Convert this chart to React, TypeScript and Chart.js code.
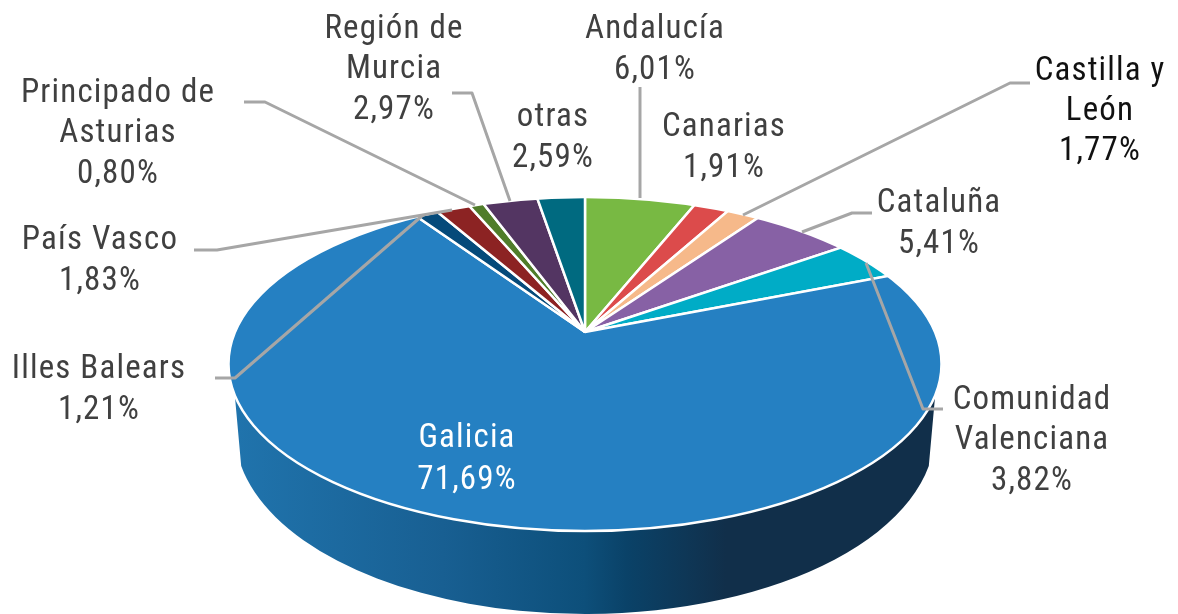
import React, { useEffect, useRef } from "react";
import { Chart, registerables } from "chart.js";

Chart.register(...registerables);

const categories = ["Andalucía", "Canarias", "Castilla y León", "Cataluña", "Comunidad Valenciana", "Galicia", "Illes Balears", "País Vasco", "Principado de Asturias", "Región de Murcia", "otras"];
const shares = [6.01, 1.91, 1.77, 5.41, 3.82, 71.69, 1.21, 1.83, 0.8, 2.97, 2.59];
const sliceColors = ["#78b943", "#dc4b4b", "#f6b98a", "#8761a5", "#00acc6", "#2580c2", "#054a7a", "#8c2323", "#507d2a", "#533562", "#006a80"];

const W = 1178, H = 614;
const APEX = { x: 585, y: 332 };
const TOP = { cx: 585, cy: 364, rx: 356.5, ry: 167 };
const BOTTOM = { cx: 585, cy: 432, rx: 350, ry: 182 };
const TILT = 0.46;
const FONT = 'condensed 34px "Roboto", sans-serif';
const TEXT_SQUEEZE = 0.97;

type Lab = { lines: string[]; x: number; y: number[]; color?: string; leader?: number[][] };
const labelLayout: Lab[] = [
  { lines: ["Andalucía"], x: 655, y: [38, 79], leader: [[640, 87], [640, 198]] },
  { lines: ["Canarias"], x: 724, y: [136, 177] },
  { lines: ["Castilla y", "León"], x: 1100, y: [80, 120, 160], color: "#111111", leader: [[1030, 83], [1010, 83], [743, 215]] },
  { lines: ["Cataluña"], x: 939, y: [212, 253], leader: [[872, 213], [852, 213], [802, 232]] },
  { lines: ["Comunidad", "Valenciana"], x: 1032, y: [409, 449, 490], leader: [[943, 409], [923, 409], [866, 263]] },
  { lines: ["Galicia"], x: 467, y: [447, 489], color: "#ffffff" },
  { lines: ["Illes Balears"], x: 99, y: [378, 419], leader: [[215, 378], [235, 378], [423, 215]] },
  { lines: ["País Vasco"], x: 100, y: [249, 290], leader: [[194, 250], [217, 250], [452, 210]] },
  { lines: ["Principado de", "Asturias"], x: 118, y: [102, 142, 183], leader: [[244, 102], [265, 102], [475, 205]] },
  { lines: ["Región de", "Murcia"], x: 394, y: [38, 78, 119], leader: [[452, 93], [472, 93], [510, 201]] },
  { lines: ["otras"], x: 553, y: [126, 167] },
];

const topPath = (ctx: CanvasRenderingContext2D) => {
  ctx.beginPath();
  ctx.ellipse(TOP.cx, TOP.cy, TOP.rx, TOP.ry, 0, 0, Math.PI * 2);
};

const pie3d = {
  id: "pie3d",
  afterDatasetsUpdate(chart: any) {
    const arcs = chart.getDatasetMeta(0).data;
    const map = (t: number) => Math.atan2(TILT * Math.sin(t), Math.cos(t));
    let prev = -Math.PI / 2;
    arcs.forEach((a: any) => {
      const s = prev;
      let e = map(a.endAngle);
      while (e < s - 1e-6) e += Math.PI * 2;
      a.startAngle = s;
      a.endAngle = e;
      a.circumference = e - s;
      a.x = APEX.x;
      a.y = APEX.y;
      a.innerRadius = 0;
      a.outerRadius = 520;
      prev = e;
    });
  },
  beforeDatasetsDraw(chart: any) {
    const ctx: CanvasRenderingContext2D = chart.ctx;
    ctx.save();
    const g = ctx.createLinearGradient(231, 0, 938, 0);
    g.addColorStop(0, "#2074ad");
    g.addColorStop(0.3, "#185f92");
    g.addColorStop(0.5, "#0d4f7a");
    g.addColorStop(0.56, "#0a4268");
    g.addColorStop(0.7, "#112f4a");
    g.addColorStop(1, "#112f4a");
    ctx.fillStyle = g;
    ctx.beginPath();
    ctx.ellipse(TOP.cx, TOP.cy, TOP.rx, TOP.ry, 0, Math.PI * 0.94, Math.PI * 0.06, true);
    ctx.ellipse(BOTTOM.cx, BOTTOM.cy, BOTTOM.rx, BOTTOM.ry, 0, Math.PI * 0.06, Math.PI * 0.94, false);
    ctx.closePath();
    ctx.fill();
    ctx.restore();
    ctx.save();
    topPath(ctx);
    ctx.clip();
  },
  afterDatasetsDraw(chart: any) {
    const ctx: CanvasRenderingContext2D = chart.ctx;
    ctx.restore();
    ctx.save();
    ctx.strokeStyle = "#ffffff";
    ctx.lineWidth = 2.5;
    ctx.beginPath();
    ctx.ellipse(TOP.cx, TOP.cy, TOP.rx, TOP.ry, 0, 0, Math.PI * 2);
    ctx.stroke();
    ctx.restore();
  },
  afterDraw(chart: any) {
    const ctx: CanvasRenderingContext2D = chart.ctx;
    ctx.save();
    ctx.strokeStyle = "#a6a6a6";
    ctx.lineWidth = 3;
    ctx.lineJoin = "round";
    labelLayout.forEach((l) => {
      if (!l.leader) return;
      ctx.beginPath();
      l.leader.forEach(([x, y], i) => (i ? ctx.lineTo(x, y) : ctx.moveTo(x, y)));
      ctx.stroke();
    });
    ctx.font = FONT;
    (ctx as any).letterSpacing = "1.2px";
    ctx.textAlign = "center";
    ctx.textBaseline = "alphabetic";
    labelLayout.forEach((l, i) => {
      ctx.fillStyle = l.color || "#404040";
      const pct = shares[i].toFixed(2).replace(".", ",") + "%";
      [...l.lines, pct].forEach((t, k) => {
        ctx.save();
        ctx.translate(l.x, l.y[k]);
        ctx.scale(TEXT_SQUEEZE, 1);
        ctx.fillText(t, 0, 0);
        ctx.restore();
      });
    });
    ctx.restore();
  },
};

export default function App() {
  const ref = useRef<HTMLCanvasElement>(null);
  useEffect(() => {
    const chart = new Chart(ref.current!, {
      type: "pie",
      data: {
        labels: categories,
        datasets: [{ data: shares, backgroundColor: sliceColors, borderColor: "#ffffff", borderWidth: 2.5, clip: false } as any],
      },
      options: {
        animation: false,
        responsive: false,
        devicePixelRatio: 1,
        plugins: { legend: { display: false }, tooltip: { enabled: false } },
      },
      plugins: [pie3d],
    } as any);
    return () => chart.destroy();
  }, []);
  return <canvas ref={ref} width={W} height={H} style={{ position: "absolute", left: 0, top: 0, width: W, height: H }} />;
}
